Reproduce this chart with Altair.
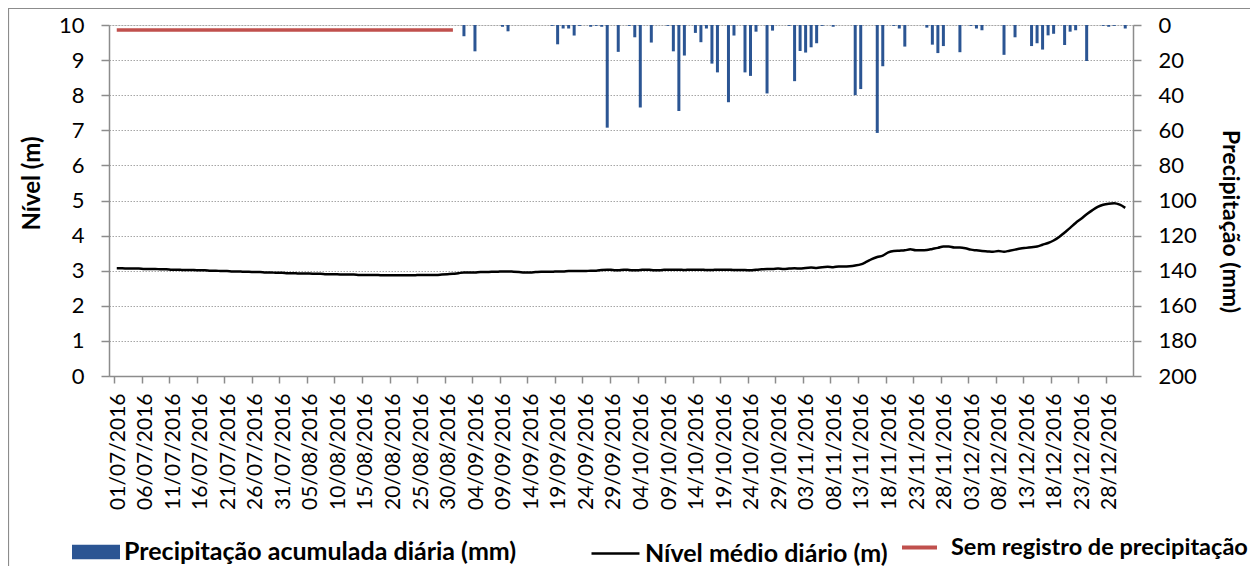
import json
import altair as alt
import pandas as pd

# ---------------- data ----------------
# daily mean level (m), one value per day, month by month (2016)
nivel_jul = [3.07, 3.07, 3.06, 3.06, 3.06, 3.05, 3.05, 3.05, 3.04, 3.04, 3.03, 3.03, 3.02, 3.02, 3.02, 3.01,
             3.01, 3.00, 3.00, 2.99, 2.99, 2.98, 2.98, 2.97, 2.97, 2.96, 2.96, 2.95, 2.95, 2.94, 2.94]
nivel_ago = [2.93, 2.93, 2.92, 2.92, 2.92, 2.91, 2.91, 2.90, 2.90, 2.90, 2.89, 2.89, 2.89, 2.88, 2.88, 2.88,
             2.88, 2.87, 2.87, 2.87, 2.87, 2.87, 2.87, 2.87, 2.88, 2.88, 2.88, 2.88, 2.89, 2.90, 2.91]
nivel_set = [2.93, 2.95, 2.95, 2.95, 2.96, 2.96, 2.97, 2.97, 2.98, 2.98, 2.97, 2.96, 2.95, 2.95, 2.96, 2.97,
             2.97, 2.97, 2.98, 2.98, 2.99, 2.99, 2.99, 2.99, 3.00, 3.00, 3.02, 3.03, 3.02, 3.01]
nivel_out = [3.03, 3.02, 3.01, 3.02, 3.03, 3.02, 3.01, 3.02, 3.03, 3.03, 3.03, 3.02, 3.03, 3.03, 3.03, 3.02,
             3.02, 3.03, 3.03, 3.03, 3.02, 3.02, 3.02, 3.01, 3.03, 3.04, 3.05, 3.05, 3.06, 3.05, 3.06]
nivel_nov = [3.07, 3.06, 3.08, 3.09, 3.08, 3.10, 3.11, 3.10, 3.12, 3.12, 3.13, 3.15, 3.18, 3.25, 3.33, 3.39,
             3.43, 3.52, 3.56, 3.57, 3.58, 3.61, 3.58, 3.58, 3.59, 3.62, 3.65, 3.69, 3.69, 3.66]
nivel_dez = [3.66, 3.64, 3.60, 3.58, 3.56, 3.55, 3.54, 3.56, 3.54, 3.57, 3.60, 3.63, 3.65, 3.67, 3.69, 3.74,
             3.79, 3.86, 3.96, 4.09, 4.22, 4.36, 4.48, 4.61, 4.72, 4.82, 4.88, 4.91, 4.92, 4.88, 4.79]

# daily accumulated precipitation: day index counted from 01/07/2016, value in mm
precip_dias = [63, 65, 70, 71, 79, 80, 81, 82, 83, 84, 86, 87, 88, 89, 91, 93, 94, 95, 97, 100,
               101, 102, 103, 105, 106, 107, 108, 109, 111, 112, 114, 115, 116, 118, 119, 122, 123, 124, 125, 126,
               127, 128, 130, 134, 135, 138, 139, 141, 142, 143, 147, 148, 149, 150, 153, 155, 156, 157, 161, 163,
               166, 167, 168, 169, 170, 172, 173, 174, 176, 179, 180, 181, 183]
precip_mm = [6.4, 15, 1, 3.6, 0.5, 11, 2, 2, 6, 0.5, 1, 0.5, 1, 58.5, 15.3, 0.5, 7, 47, 10, 0.5,
             15, 49, 17.4, 4.5, 9.8, 2, 22, 27, 44, 6, 27, 29, 3.8, 39, 3.2, 0.5, 32, 14.8, 15.7, 12.7,
             10.4, 0.5, 1, 40, 36.5, 61.5, 23.5, 0.5, 2, 12.3, 1.5, 11.2, 16, 12, 15.5, 0.5, 2, 3, 17, 7,
             12, 10.4, 14, 5.9, 5, 11.4, 3.8, 3, 20.5, 0.5, 1, 0.5, 2]

# period without precipitation record (01/07 - 31/08), drawn near the top of the level axis
sem_registro_dias = [0, 61]
sem_registro_nivel = [9.86, 9.86]

# x-axis ticks (every 5 days) and their labels
tick_dias = list(range(0, 181, 5))
tick_labels = ["01/07/2016", "06/07/2016", "11/07/2016", "16/07/2016", "21/07/2016", "26/07/2016",
               "31/07/2016", "05/08/2016", "10/08/2016", "15/08/2016", "20/08/2016", "25/08/2016",
               "30/08/2016", "04/09/2016", "09/09/2016", "14/09/2016", "19/09/2016", "24/09/2016",
               "29/09/2016", "04/10/2016", "09/10/2016", "14/10/2016", "19/10/2016", "24/10/2016",
               "29/10/2016", "03/11/2016", "08/11/2016", "13/11/2016", "18/11/2016", "23/11/2016",
               "28/11/2016", "03/12/2016", "08/12/2016", "13/12/2016", "18/12/2016", "23/12/2016",
               "28/12/2016"]
n_dias_total = 184

serie_prec = "Precipitação acumulada diária (mm)"
serie_nivel = "Nível médio diário (m)"
serie_sem = "Sem registro de precipitação"

# ---------------- tables ----------------
nivel = nivel_jul + nivel_ago + nivel_set + nivel_out + nivel_nov + nivel_dez
df_nivel = pd.DataFrame({"dia": [d + 0.5 for d in range(len(nivel))], "nivel": nivel, "serie": serie_nivel})
df_prec = pd.DataFrame({"dia": [d + 0.5 for d in precip_dias], "mm": precip_mm, "serie": serie_prec})
df_sem = pd.DataFrame({"dia": [d + 0.5 for d in sem_registro_dias], "nivel": sem_registro_nivel, "serie": serie_sem})

# ---------------- styling ----------------
W, H = 1024, 351
PAD = {"left": 101, "top": 17, "right": 117, "bottom": 190}
FONT = "Lato"
GRAY = "#8c8c8c"

x_scale = alt.Scale(domain=[0, n_dias_total], nice=False, zero=False)
x_axis = alt.Axis(values=tick_dias, labelExpr=json.dumps(tick_labels) + "[round(datum.value / 5)]",
                  labelAngle=-90, labelFont=FONT, labelFontSize=21, labelColor="black",
                  labelPadding=10, labelOffset=4, labelOverlap=False, labelFlush=False, labelBound=False,
                  tickSize=7, tickColor=GRAY, tickWidth=1.5, domainColor=GRAY, domainWidth=1.5,
                  grid=False, title=None)

legend_common = dict(orient="none", title=None, padding=0, labelFont=FONT,
                     labelFontWeight="bold", labelColor="black", labelLimit=0)

frame = alt.Chart(pd.DataFrame({"k": [0]})).mark_rect(
    filled=False, stroke=GRAY, strokeWidth=1.2, clip=False
).encode(
    x=alt.value(-100.5), x2=alt.value(W + 200), y=alt.value(-16.5), y2=alt.value(H + 300)
)

bars = alt.Chart(df_prec).mark_bar(width=3).encode(
    x=alt.X("dia:Q", scale=x_scale, axis=x_axis),
    y=alt.Y("mm:Q", scale=alt.Scale(domain=[0, 200], reverse=True, nice=False),
            axis=alt.Axis(orient="right", values=list(range(0, 201, 20)), title="Precipitação (mm)",
                          titleFont=FONT, titleFontSize=23, titleFontWeight="bold", titleColor="black",
                          titlePadding=21, titleY=196, labelFont=FONT, labelFontSize=22, labelColor="black",
                          labelPadding=17, tickSize=8, tickColor=GRAY, tickWidth=1.5,
                          domainColor=GRAY, domainWidth=1.5, grid=False)),
    color=alt.Color("serie:N", scale=alt.Scale(domain=[serie_prec], range=["#2b5593"]),
                    legend=alt.Legend(legendX=-37, legendY=503, symbolType="M-1,-0.3H1V0.3H-1Z",
                                      symbolSize=2304, symbolStrokeWidth=0, labelFontSize=25,
                                      labelOffset=4, **legend_common)),
)

linha = alt.Chart(df_nivel).mark_line(strokeWidth=2.5, interpolate="monotone").encode(
    x=alt.X("dia:Q", scale=x_scale, axis=x_axis),
    y=alt.Y("nivel:Q", scale=alt.Scale(domain=[0, 10], nice=False),
            axis=alt.Axis(orient="left", values=list(range(0, 11)), title="Nível (m)",
                          titleFont=FONT, titleFontSize=24, titleFontWeight="bold", titleColor="black",
                          titlePadding=14, titleY=158, labelFont=FONT, labelFontSize=22, labelColor="black",
                          labelPadding=17, tickSize=8, tickColor=GRAY, tickWidth=1.5,
                          domainColor=GRAY, domainWidth=1.5, grid=True, gridColor="#a6a6a6",
                          gridDash=[1.5, 1.5], gridWidth=1)),
    color=alt.Color("serie:N", scale=alt.Scale(domain=[serie_nivel], range=["#000000"]),
                    legend=alt.Legend(legendX=481, legendY=503, symbolType="stroke", symbolSize=2304,
                                      symbolStrokeWidth=2.5, labelFontSize=25, labelOffset=4,
                                      **legend_common)),
)

sem = alt.Chart(df_sem).mark_line(strokeWidth=3.5).encode(
    x=alt.X("dia:Q", scale=x_scale, axis=x_axis),
    y=alt.Y("nivel:Q", scale=alt.Scale(domain=[0, 10], nice=False), axis=None),
    color=alt.Color("serie:N", scale=alt.Scale(domain=[serie_sem], range=["#c0504d"]),
                    legend=alt.Legend(legendX=791, legendY=503, symbolType="stroke", symbolSize=1225,
                                      symbolStrokeWidth=4, labelFontSize=23.5, labelOffset=12,
                                      **legend_common)),
)

chart = alt.layer(frame, bars, linha, sem).resolve_scale(
    y="independent", color="independent"
).properties(
    width=W, height=H, padding=PAD, autosize=alt.AutoSizeParams(type="none")
).configure_view(strokeWidth=0).configure(background="white")

chart.save("out.html", embed_options={"renderer": "svg", "actions": False})
